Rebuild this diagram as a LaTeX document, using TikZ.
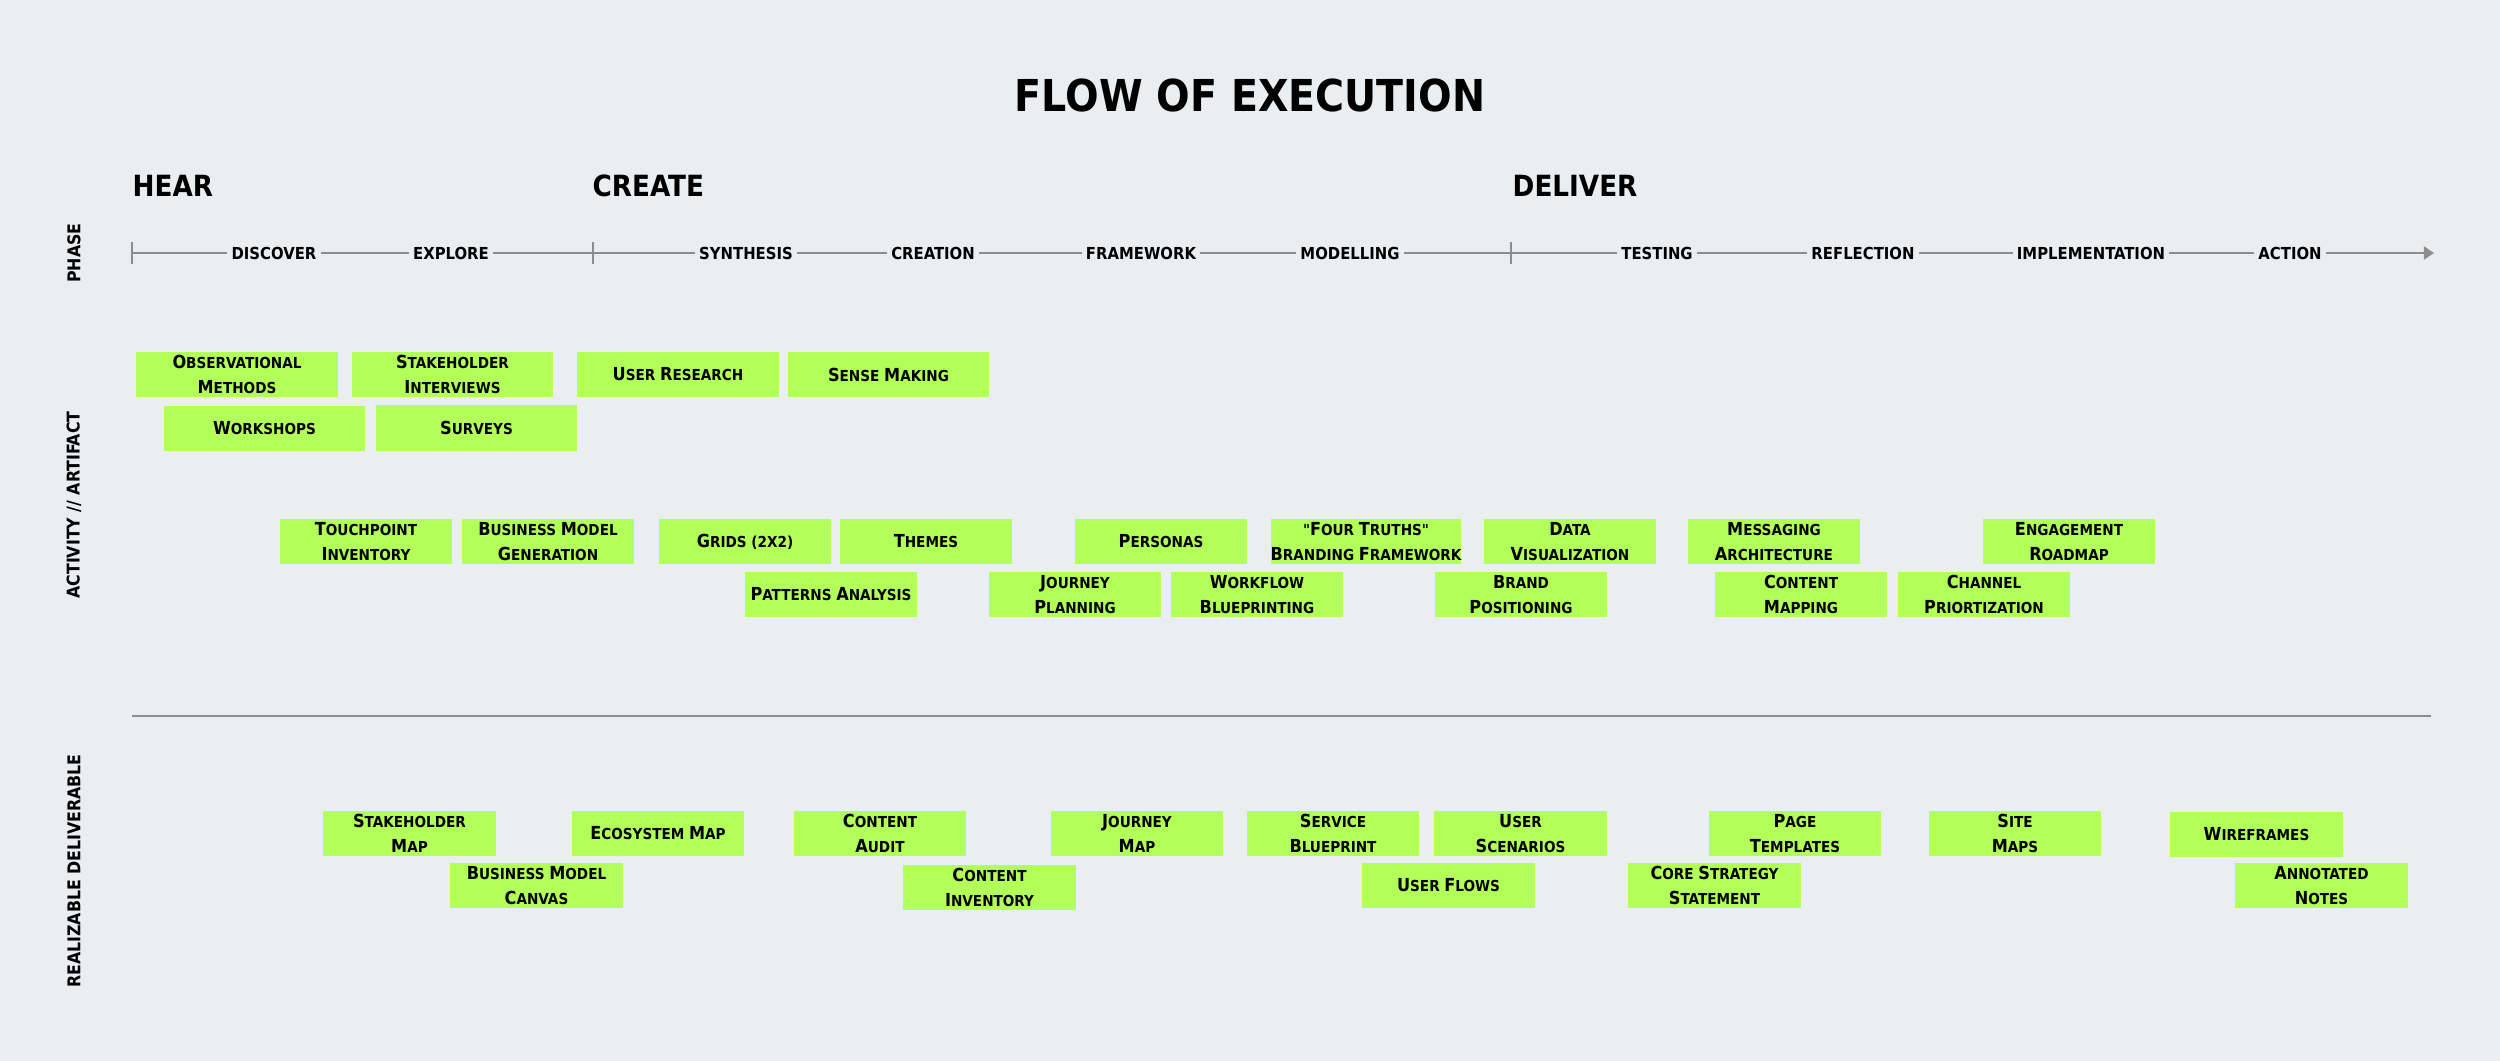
\documentclass[tikz,border=0pt]{standalone}
\usepackage{fontspec}
\setmainfont{DejaVu Sans Condensed}
\usetikzlibrary{arrows.meta,positioning}
\definecolor{bgcol}{HTML}{EAEEF1}
\definecolor{notelime}{HTML}{B2FF59}
\definecolor{axisgray}{HTML}{8C8C8C}
\newcommand{\Sc}[1]{\ScSplit#1\relax}
\def\ScSplit#1#2\relax{{\fontsize{5.1}{7}\selectfont#1}\MakeUppercase{#2}}

\begin{document}
\begin{tikzpicture}[x=0.01cm, y=-0.01cm,
  note/.style={fill=notelime, minimum width=1.72cm, minimum height=0.45cm, inner sep=0pt,
    align=center, font=\bfseries\fontsize{4.3}{7}\selectfont},
  widenote/.style={note, minimum width=2.01cm},
  phase/.style={fill=bgcol, inner sep=1.2pt, font=\bfseries\fontsize{4.7}{6}\selectfont},
  hd/.style={anchor=west, inner sep=0pt, font=\bfseries\fontsize{8.3}{10}\selectfont},
  side/.style={rotate=90, inner sep=0pt, font=\bfseries\fontsize{5}{6}\selectfont},
  axis/.style={draw=axisgray, line width=0.6pt}]

% ===== canvas 2500 x 1061 =====
\fill[bgcol] (0,0) rectangle (2500,1061);
\node[font=\bfseries\fontsize{12.5}{15}\selectfont] (title) at (1250,96) {FLOW OF EXECUTION};

% ============ stages ============
\node[hd] (hear) at (132,186) {HEAR};
\node[hd] (create) at (592,186) {CREATE};
\node[hd] (deliver) at (1512,186) {DELIVER};

% ============ phase axis ============
\node[side] (lphase) at (74,253) {PHASE};
\coordinate (t0) at (132,253);
\coordinate (t1) at (2434,253);
\draw[axis,-{Triangle[length=2.9pt,width=3.7pt]}] (t0) -- (t1);
\foreach \x in {132,593,1511} \draw[axis] (\x,242)--(\x,264);
\node[phase] (discover) at (274,253) {DISCOVER};
\node[phase] (explore) at (451,253) {EXPLORE};
\node[phase] (synth) at (746,253) {SYNTHESIS};
\node[phase] (creation) at (933,253) {CREATION};
\node[phase] (frame) at (1141,253) {FRAMEWORK};
\node[phase] (model) at (1350,253) {MODELLING};
\node[phase] (testing) at (1657,253) {TESTING};
\node[phase] (reflect) at (1863,253) {REFLECTION};
\node[phase] (implem) at (2091,253) {IMPLEMENTATION};
\node[phase] (action) at (2290,253) {ACTION};

% ============ activity // artifact ============
\node[side] (lact) at (74,505) {ACTIVITY // ARTIFACT};
\node[widenote] (obs) at (237,374.5) {\Sc{Observational}\\\Sc{Methods}};
\node[widenote] (stkint) at (452.5,374.5) {\Sc{Stakeholder}\\\Sc{Interviews}};
\node[widenote] (usrres) at (678,374.5) {\Sc{User} \Sc{Research}};
\node[widenote] (sense) at (888.5,374.5) {\Sc{Sense} \Sc{Making}};
\node[widenote] (wkshop) at (264.5,428.5) {\Sc{Workshops}};
\node[widenote] (survey) at (476.5,428) {\Sc{Surveys}};
\node[note] (touch) at (366,541.5) {\Sc{Touchpoint}\\\Sc{Inventory}};
\node[note] (bmgen) at (548,541.5) {\Sc{Business} \Sc{Model}\\\Sc{Generation}};
\node[note] (grids) at (745,541.5) {\Sc{Grids} (2X2)};
\node[note] (themes) at (926,541.5) {\Sc{Themes}};
\node[note] (patt) at (831,594.5) {\Sc{Patterns} \Sc{Analysis}};
\node[note] (persona) at (1161,541.5) {\Sc{Personas}};
\node[note] (jplan) at (1075,594.5) {\Sc{Journey}\\\Sc{Planning}};
\node[note] (wflow) at (1257,594.5) {\Sc{Workflow}\\\Sc{Blueprinting}};
\node[note] (ftruth) at (1366,541.5) {\textquotedbl\Sc{Four} \Sc{Truths}\textquotedbl\\\Sc{Branding} \Sc{Framework}};
\node[note] (dataviz) at (1570,541.5) {\Sc{Data}\\\Sc{Visualization}};
\node[note] (brand) at (1521,594.5) {\Sc{Brand}\\\Sc{Positioning}};
\node[note] (msg) at (1774,541.5) {\Sc{Messaging}\\\Sc{Architecture}};
\node[note] (cmap) at (1801,594.5) {\Sc{Content}\\\Sc{Mapping}};
\node[note] (chan) at (1984,594.5) {\Sc{Channel}\\\Sc{Priortization}};
\node[note] (engage) at (2069,541.5) {\Sc{Engagement}\\\Sc{Roadmap}};

% ============ divider ============
\coordinate (s0) at (132,716);
\coordinate (s1) at (2431,716);
\draw[axis] (s0) -- (s1);

% ============ realizable deliverable ============
\node[side] (ldel) at (74,871) {REALIZABLE DELIVERABLE};
\node[note] (smap) at (409.5,833.5) {\Sc{Stakeholder}\\\Sc{Map}};
\node[note] (eco) at (658,833.5) {\Sc{Ecosystem} \Sc{Map}};
\node[note] (bmc) at (536.5,885.5) {\Sc{Business} \Sc{Model}\\\Sc{Canvas}};
\node[note] (caudit) at (880,833.5) {\Sc{Content}\\\Sc{Audit}};
\node[note] (cinv) at (989.5,887.5) {\Sc{Content}\\\Sc{Inventory}};
\node[note] (jmap) at (1137,833.5) {\Sc{Journey}\\\Sc{Map}};
\node[note] (sbp) at (1333,833.5) {\Sc{Service}\\\Sc{Blueprint}};
\node[note] (uscen) at (1520.5,833.5) {\Sc{User}\\\Sc{Scenarios}};
\node[note] (uflow) at (1448.5,885.5) {\Sc{User} \Sc{Flows}};
\node[note] (core) at (1714.5,885.5) {\Sc{Core} \Sc{Strategy}\\\Sc{Statement}};
\node[note] (ptmpl) at (1795,833.5) {\Sc{Page}\\\Sc{Templates}};
\node[note] (smaps) at (2015,833.5) {\Sc{Site}\\\Sc{Maps}};
\node[note] (wire) at (2256.5,834.5) {\Sc{Wireframes}};
\node[note] (anno) at (2321.5,885.5) {\Sc{Annotated}\\\Sc{Notes}};

\end{tikzpicture}
\end{document}
